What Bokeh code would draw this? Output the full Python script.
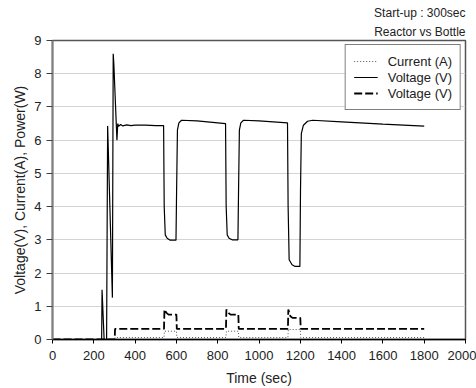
from bokeh.plotting import figure
from bokeh.models import Title, Legend, LegendItem, FixedTicker, Range1d
from bokeh.embed import file_html
from bokeh.resources import INLINE

# Voltage (solid)
volt_t = [0, 238, 240, 250, 262, 267, 290, 294, 297, 312, 316, 320, 330, 340, 360, 380, 400, 450, 500, 538,
          541, 546, 555, 570, 598, 601, 605, 612, 625, 700, 838,
          841, 846, 855, 870, 898, 901, 905, 912, 925, 1000, 1138,
          1141, 1146, 1160, 1175, 1198, 1201, 1205, 1215, 1235, 1260, 1400, 1600, 1800]
volt_v = [0, 0, 1.5, 0, 0, 6.43, 1.26, 8.6, 8.3, 6.0, 6.5, 6.42, 6.47, 6.43, 6.46, 6.44, 6.45, 6.45, 6.44, 6.44,
          4.0, 3.15, 3.05, 2.99, 2.99, 4.5, 6.3, 6.52, 6.6, 6.58, 6.5,
          4.0, 3.15, 3.05, 3.0, 3.0, 4.5, 6.3, 6.52, 6.6, 6.58, 6.52,
          4.0, 2.4, 2.25, 2.2, 2.2, 4.5, 6.2, 6.45, 6.57, 6.6, 6.55, 6.48, 6.42]

# Second series (dashed)
pow_t = [0, 301, 303, 540, 542, 552, 562, 600, 602, 840, 842, 852, 862, 900, 902,
         1140, 1142, 1152, 1162, 1200, 1202, 1800]
pow_v = [0, 0, 0.32, 0.32, 0.9, 0.8, 0.75, 0.75, 0.32, 0.32, 0.9, 0.8, 0.75, 0.75, 0.32,
         0.32, 0.9, 0.7, 0.65, 0.65, 0.32, 0.32]

# Current (dotted)
cur_t = [0, 301, 303, 540, 542, 600, 602, 840, 842, 900, 902, 1140, 1142, 1200, 1202, 1800]
cur_v = [0, 0, 0.06, 0.06, 0.25, 0.25, 0.06, 0.06, 0.25, 0.25, 0.06, 0.06, 0.3, 0.3, 0.06, 0.06]

x_ticks = list(range(0, 2001, 200))
y_ticks = list(range(0, 10))
FONT = "Liberation Sans"

p = figure(width=476, height=388, output_backend="svg", toolbar_location=None,
           x_range=Range1d(0, 2000), y_range=Range1d(0, 9))
p.min_border_left = 52
p.min_border_right = 11
p.min_border_top = 40
p.min_border_bottom = 4
p.background_fill_color = "white"
p.border_fill_color = "white"
p.outline_line_color = "#555555"
p.outline_line_width = 1.5

r_cur = p.line(cur_t, cur_v, line_color="#555555", line_width=1, line_dash="1 2")
r_volt = p.line(volt_t, volt_v, line_color="black", line_width=1.2)
r_pow = p.line(pow_t, pow_v, line_color="black", line_width=1.8, line_dash="8 3")

p.xaxis.ticker = FixedTicker(ticks=x_ticks)
p.yaxis.ticker = FixedTicker(ticks=y_ticks)
p.xgrid.grid_line_color = None
p.ygrid.grid_line_color = "#d4d4d4"
p.ygrid.grid_line_width = 1.2

for ax in (p.xaxis, p.yaxis):
    ax.major_label_text_font = FONT
    ax.major_label_text_font_size = "13px"
    ax.major_label_text_color = "#222222"
    ax.axis_label_text_font = FONT
    ax.axis_label_text_font_size = "14px"
    ax.axis_label_text_font_style = "normal"
    ax.axis_label_text_color = "#222222"
    ax.minor_tick_line_color = None
    ax.major_tick_in = 0

p.xaxis.axis_label = "Time (sec)"
p.xaxis.axis_line_color = "black"
p.xaxis.axis_line_width = 1.5
p.xaxis.major_tick_out = 4
p.xaxis.major_tick_line_color = "black"
p.xaxis.major_label_standoff = 7
p.xaxis.axis_label_standoff = 7

p.yaxis.axis_label = "Voltage(V), Current(A), Power(W)"
p.yaxis.axis_line_color = "#808080"
p.yaxis.axis_line_width = 2
p.yaxis.major_tick_out = 6
p.yaxis.major_tick_line_color = "#404040"
p.yaxis.major_label_standoff = 5
p.yaxis.axis_label_standoff = 3

legend = Legend(items=[LegendItem(label="Current (A)", renderers=[r_cur]),
                       LegendItem(label="Voltage (V)", renderers=[r_volt]),
                       LegendItem(label="Voltage (V)", renderers=[r_pow])],
                location="top_right")
legend.margin = 4
legend.padding = 8
legend.spacing = 0
legend.label_height = 16
legend.glyph_height = 16
legend.glyph_width = 24
legend.label_standoff = 10
legend.label_text_font = FONT
legend.label_text_font_size = "13px"
legend.label_text_color = "#222222"
legend.border_line_color = "black"
legend.border_line_width = 1.2
legend.background_fill_alpha = 1
p.add_layout(legend)

p.add_layout(Title(text="Reactor vs Bottle", align="right", text_font=FONT, text_font_size="12px",
                   text_font_style="normal", text_color="#222222", standoff=4, offset=0), "above")
p.add_layout(Title(text="Start-up : 300sec", align="right", text_font=FONT, text_font_size="12px",
                   text_font_style="normal", text_color="#222222", standoff=2, offset=0), "above")

open("out.html", "w").write(file_html(p, INLINE))
